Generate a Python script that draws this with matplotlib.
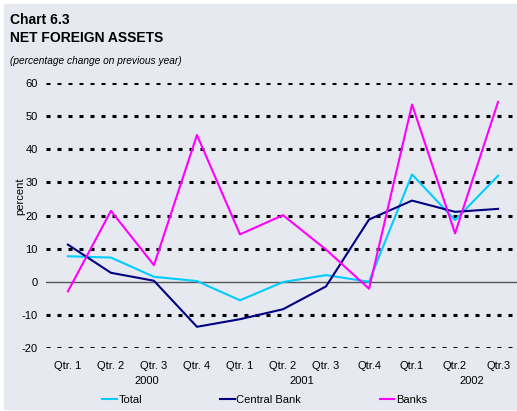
import matplotlib.pyplot as plt
import matplotlib.patches as mpatches

# quarters on the x axis
quarters = ["Qtr. 1", "Qtr. 2", "Qtr. 3", "Qtr. 4",
            "Qtr. 1", "Qtr. 2", "Qtr. 3", "Qtr.4",
            "Qtr.1", "Qtr.2", "Qtr.3"]
years = ["2000", "2001", "2002"]

# percentage change on previous year
total = [7.7, 7.3, 1.5, 0.2, -5.6, -0.1, 2.0, 0.0, 32.4, 18.6, 32.0]
central_bank = [11.2, 2.7, 0.3, -13.6, -11.3, -8.3, -1.4, 18.8, 24.5, 21.1, 22.0]
banks = [-2.9, 21.4, 5.0, 44.3, 14.3, 20.1, 9.7, -2.1, 53.5, 14.6, 54.3]

plt.rcParams['font.family'] = ['Liberation Sans', 'DejaVu Sans']

bg = '#e6e9f0'
fig = plt.figure(figsize=(5.17, 4.11), dpi=100)
fig.patch.set_facecolor('white')
# grey panel with small white margin at top/left
fig.add_artist(mpatches.Rectangle((4/517, 2/411), 1, 1 - 6/411,
                                  transform=fig.transFigure, color=bg, zorder=-10))

ax = fig.add_axes([46/517, 63/411, 471/517, 265/411])
ax.set_facecolor('none')
x = list(range(len(quarters)))

# dotted gridlines
for v in [-20, -10, 10, 20, 30, 40, 50, 60]:
    ax.axhline(v, color='black', lw=2.2, linestyle=(0, (1.31, 2.29)), zorder=1)
ax.axhline(0, color='#555555', lw=1.0, zorder=1)

ax.plot(x, total, color='#00ccff', lw=1.5, label='Total', zorder=3)
ax.plot(x, central_bank, color='#000080', lw=1.5, label='Central Bank', zorder=3)
ax.plot(x, banks, color='#ff00ff', lw=1.5, label='Banks', zorder=3)

ax.set_xlim(-0.51, 10.44)
ax.set_ylim(-20, 60)
ax.set_yticks(range(-20, 61, 10))
ax.set_yticklabels([str(v) for v in range(-20, 61, 10)], fontsize=8)
ax.set_xticks(x)
ax.set_xticklabels(quarters, fontsize=8)
ax.tick_params(length=0, pad=6)
ax.tick_params(axis='x', pad=9)
for s in ax.spines.values():
    s.set_visible(False)

ax.set_ylabel("percent", fontsize=8)
ax.yaxis.set_label_coords(-0.045, 0.574)

# year labels under the quarters
for xp, yr in zip([1.84, 5.44, 9.4], years):
    ax.text(xp, -30, yr, ha='center', va='center', fontsize=8)

# titles
fig.text(10/517, 1 - 20/411, "Chart 6.3", fontsize=10, fontweight='bold', va='center')
fig.text(10/517, 1 - 38/411, "NET FOREIGN ASSETS", fontsize=10, fontweight='bold', va='center')
fig.text(10/517, 1 - 61/411, "(percentage change on previous year)", fontsize=7.3,
         style='italic', va='center')

fig.legend(loc='center', bbox_to_anchor=(264.5/517, 11/411), ncol=3, frameon=False,
           fontsize=8, handlelength=1.3, handletextpad=0.15, columnspacing=7.05)

plt.savefig("out.png", dpi=100, facecolor=fig.get_facecolor())
